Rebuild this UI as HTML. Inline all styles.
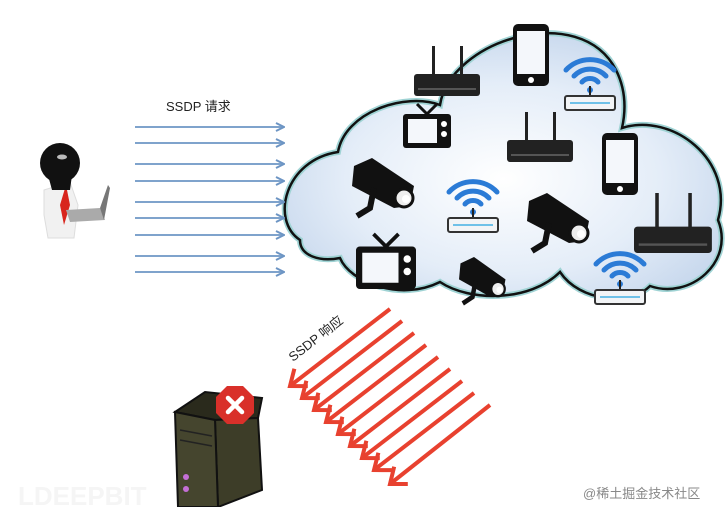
<!DOCTYPE html>
<html><head><meta charset="utf-8"><style>
html,body{margin:0;padding:0;background:#fff;width:726px;height:507px;overflow:hidden}
svg{display:block}
text{font-family:"Liberation Sans","Noto Sans CJK SC",sans-serif}
</style></head><body>
<svg width="726" height="507" viewBox="0 0 726 507" xmlns="http://www.w3.org/2000/svg">
<defs>
<radialGradient id="cg" cx="0.5" cy="0.55" r="0.6">
<stop offset="0" stop-color="#ffffff"/><stop offset="0.6" stop-color="#e4edf8"/><stop offset="1" stop-color="#c5d6ec"/>
</radialGradient>
<marker id="ba" markerWidth="10" markerHeight="10" refX="8" refY="5" orient="auto" markerUnits="userSpaceOnUse">
<path d="M1,1 L9,5 L1,9" fill="none" stroke="#6d95c4" stroke-width="2"/>
</marker>
<marker id="ra" markerWidth="30" markerHeight="30" refX="17" refY="15" orient="auto" markerUnits="userSpaceOnUse">
<path d="M3,4 L17,15 L3,26" fill="none" stroke="#e8412f" stroke-width="4"/>
</marker>
<g id="router"><rect x="18" y="0" width="3" height="30" fill="#222"/><rect x="46" y="0" width="3" height="30" fill="#222"/><rect x="0" y="28" width="66" height="22" rx="3" fill="#222"/><rect x="4" y="42" width="58" height="2" fill="#555"/></g>
<g id="phone"><rect x="0" y="0" width="36" height="62" rx="5" fill="#111"/><rect x="4" y="7" width="28" height="43" fill="#f4f7fb"/><circle cx="18" cy="56" r="3" fill="#fff"/></g>
<g id="tv"><path d="M14,0 L24,10 L34,0" stroke="#111" stroke-width="3" fill="none"/><rect x="0" y="10" width="48" height="34" rx="3" fill="#111"/><rect x="5" y="15" width="29" height="24" fill="#f4f7fb"/><circle cx="41" cy="20" r="3" fill="#fff"/><circle cx="41" cy="30" r="3" fill="#fff"/></g>
<g id="cam"><polygon points="2,8 20,0 62,28 58,48 42,50 0,28" fill="#111"/><circle cx="52" cy="40" r="9" fill="#eee" stroke="#111" stroke-width="3"/><circle cx="54" cy="41" r="4" fill="#fff"/><path d="M22,30 L18,50 L5,58" stroke="#111" stroke-width="6" fill="none"/></g>
<g id="wifi" fill="none" stroke="#2b7bd6" stroke-width="5" stroke-linecap="round">
<path d="M-8,-8 A11,11 0 0 1 8,-8"/><path d="M-16,-14 A22,22 0 0 1 16,-14"/><path d="M-24,-20 A33,33 0 0 1 24,-20"/>
<circle cx="0" cy="0" r="3" fill="#2b7bd6" stroke="none"/><rect x="-1" y="-4" width="2" height="10" fill="#222" stroke="none"/>
<rect x="-25" y="6" width="50" height="14" rx="2" fill="#f2f4f6" stroke="#333" stroke-width="2"/><rect x="-20" y="12" width="40" height="2" fill="#6fc1e8" stroke="none"/></g>
</defs>

<path d="M300 240 C270 220,285 160,338 152 C345 112,405 92,440 105 C450 40,580 0,616 70 C626 90,626 110,622 128 C672 112,735 160,718 220 C735 262,690 300,650 286 C630 306,580 302,560 272 C530 302,470 302,440 282 C400 302,350 282,340 258 C320 262,300 256,300 240 Z" fill="url(#cg)" stroke="#9fd3d4" stroke-width="6"/>
<path d="M300 240 C270 220,285 160,338 152 C345 112,405 92,440 105 C450 40,580 0,616 70 C626 90,626 110,622 128 C672 112,735 160,718 220 C735 262,690 300,650 286 C630 306,580 302,560 272 C530 302,470 302,440 282 C400 302,350 282,340 258 C320 262,300 256,300 240 Z" fill="none" stroke="#111" stroke-width="2.5"/>

<use href="#router" x="414" y="46"/>
<use href="#phone" x="513" y="24"/>
<use href="#wifi" x="590" y="90"/>
<use href="#tv" x="403" y="104"/>
<use href="#router" x="507" y="112"/>
<use href="#phone" x="602" y="133"/>
<use href="#cam" x="352" y="158"/>
<use href="#wifi" x="473" y="212"/>
<use href="#cam" x="527" y="193"/>
<g transform="translate(634,193) scale(1.18,1.2)"><use href="#router"/></g>
<g transform="translate(356,234) scale(1.25,1.25)"><use href="#tv"/></g>
<g transform="translate(459,257) scale(0.75,0.8)"><use href="#cam"/></g>
<use href="#wifi" x="620" y="284"/>

<g stroke="#7fa3cc" stroke-width="2" marker-end="url(#ba)">
<line x1="135" y1="127" x2="283" y2="127"/><line x1="135" y1="143" x2="283" y2="143"/>
<line x1="135" y1="164" x2="283" y2="164"/><line x1="135" y1="181" x2="283" y2="181"/>
<line x1="135" y1="202" x2="283" y2="202"/><line x1="135" y1="218" x2="283" y2="218"/>
<line x1="135" y1="235" x2="283" y2="235"/><line x1="135" y1="256" x2="283" y2="256"/>
<line x1="135" y1="272" x2="283" y2="272"/>
</g>
<text x="166" y="111" font-size="13" fill="#222">SSDP 请求</text>

<g>
<path d="M44 190 L70 182 L78 205 L74 238 L48 238 L44 215 Z" fill="#f1f1f1" stroke="#ddd"/>
<path d="M66 185 L70 205 L64 225 L60 205 Z" fill="#d8251d"/>
<ellipse cx="60" cy="163" rx="20" ry="20" fill="#111"/>
<path d="M48 175 L72 175 L70 190 L52 190 Z" fill="#111"/>
<ellipse cx="62" cy="157" rx="5" ry="2.5" fill="#bbb"/>
<path d="M66 210 L100 208 L105 220 L70 222 Z" fill="#aaa"/>
<path d="M100 208 L108 185 L110 188 L104 220 Z" fill="#777"/>
</g>

<g stroke="#e8412f" stroke-width="4" marker-end="url(#ra)">
<line x1="390" y1="309" x2="290" y2="386"/>
<line x1="402" y1="321" x2="302" y2="398"/>
<line x1="414" y1="333" x2="314" y2="410"/>
<line x1="426" y1="345" x2="326" y2="422"/>
<line x1="438" y1="357" x2="338" y2="434"/>
<line x1="450" y1="369" x2="350" y2="446"/>
<line x1="462" y1="381" x2="362" y2="458"/>
<line x1="474" y1="393" x2="374" y2="470"/>
<line x1="490" y1="405" x2="390" y2="484"/>
</g>
<text transform="translate(293,362) rotate(-38)" font-size="13" fill="#222">SSDP 响应</text>

<polygon points="175,412 205,392 262,398 258,418 215,420" fill="#2a2a1c" stroke="#111" stroke-width="2"/>
<polygon points="215,420 258,418 262,490 218,507" fill="#3d3d28" stroke="#111" stroke-width="2"/>
<polygon points="175,412 215,420 218,507 178,507" fill="#45452e" stroke="#111" stroke-width="2"/>
<line x1="180" y1="430" x2="212" y2="436" stroke="#222" stroke-width="1.5"/>
<line x1="180" y1="440" x2="212" y2="446" stroke="#222" stroke-width="1.5"/>
<circle cx="186" cy="477" r="3" fill="#c46fd6"/><circle cx="186" cy="489" r="3" fill="#c46fd6"/>
<polygon points="227,386 243,386 254,397 254,413 243,424 227,424 216,413 216,397" fill="#d9302a"/>
<path d="M228 398 L242 412 M242 398 L228 412" stroke="#fff" stroke-width="4.5" stroke-linecap="round"/>

<text x="18" y="505" font-size="26" font-weight="bold" fill="#f5f5f5">LDEEPBIT</text>
<text x="583" y="498" font-size="13" fill="#888">@稀土掘金技术社区</text>
</svg>
</body></html>
